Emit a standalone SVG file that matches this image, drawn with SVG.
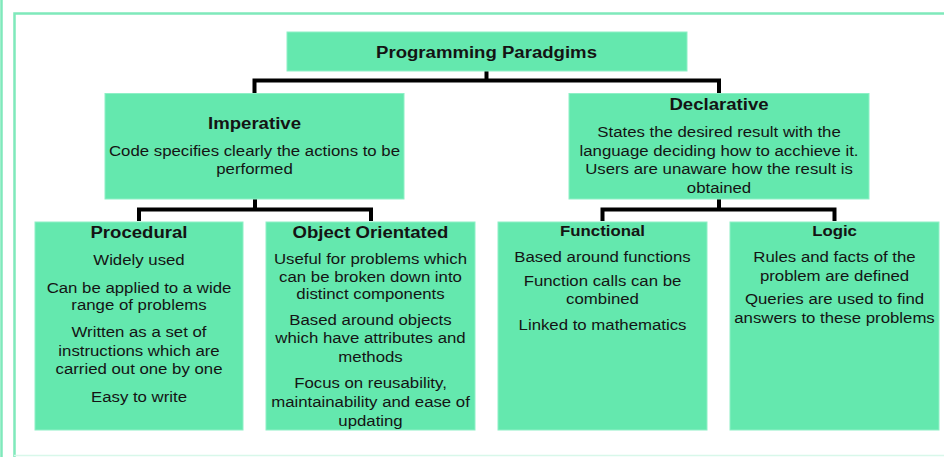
<svg xmlns="http://www.w3.org/2000/svg" width="944" height="457" viewBox="0 0 944 457">
  <style>
    .box { fill: #64e8ae; stroke: #8ef0c6; stroke-width: 1; }
    .frame { fill: none; stroke: #7fe9bb; stroke-width: 2.5; }
    .conn { fill: none; stroke: #000; stroke-width: 4; stroke-linejoin: miter; stroke-linecap: butt; }
    text { font-family: "Liberation Sans", Arial, sans-serif; fill: #141414; text-anchor: middle; }
    .h1 { font-size: 16.6px; font-weight: bold; }
    .h2 { font-size: 15px; font-weight: bold; }
    .b { font-size: 15px; }
  </style>

  <!-- page frame -->
  <line x1="1.5" y1="0" x2="1.5" y2="457" class="frame" stroke-width="2"/>
  <path class="frame" d="M14.5 457 V13.5 H944"/>
  <line x1="14" y1="455.5" x2="944" y2="455.5" stroke="#d8f8ea" stroke-width="1.5"/>

  <!-- connectors -->
  <g id="connectors">
    <path class="conn" d="M486.5 71 V80.5"/>
    <path class="conn" d="M254.5 93 V80.5 H719 V93"/>
    <path class="conn" d="M255 199 V209.5"/>
    <path class="conn" d="M139 221 V209.5 H371 V221"/>
    <path class="conn" d="M719 199 V209.5"/>
    <path class="conn" d="M602.5 221 V209.5 H834.5 V221"/>
  </g>

  <g id="root">
    <rect class="box" x="287" y="32" width="400" height="39"/>
    <g transform="translate(486.5 0) scale(1.12 1)">
      <text class="h1" x="0" y="58">Programming Paradgims</text>
    </g>
  </g>

  <g id="imperative">
    <rect class="box" x="105" y="93.5" width="299" height="105.5"/>
    <g transform="translate(254.5 0) scale(1.12 1)">
      <text class="h1" x="0" y="129">Imperative</text>
      <text class="b" x="0" y="156">Code specifies clearly the actions to be</text>
      <text class="b" x="0" y="174">performed</text>
    </g>
  </g>

  <g id="declarative">
    <rect class="box" x="569" y="93.5" width="300" height="105.5"/>
    <g transform="translate(719 0) scale(1.12 1)">
      <text class="h1" x="0" y="110">Declarative</text>
      <text class="b" x="0" y="137">States the desired result with the</text>
      <text class="b" x="0" y="156">language deciding how to acchieve it.</text>
      <text class="b" x="0" y="174">Users are unaware how the result is</text>
      <text class="b" x="0" y="193">obtained</text>
    </g>
  </g>

  <g id="procedural">
    <rect class="box" x="35" y="222" width="208" height="208"/>
    <g transform="translate(139 0) scale(1.12 1)">
      <text class="h1" x="0" y="238">Procedural</text>
      <text class="b" x="0" y="265">Widely used</text>
      <text class="b" x="0" y="293">Can be applied to a wide</text>
      <text class="b" x="0" y="310">range of problems</text>
      <text class="b" x="0" y="337">Written as a set of</text>
      <text class="b" x="0" y="356">instructions which are</text>
      <text class="b" x="0" y="374">carried out one by one</text>
      <text class="b" x="0" y="402">Easy to write</text>
    </g>
  </g>

  <g id="object-orientated">
    <rect class="box" x="266" y="222" width="209" height="208"/>
    <g transform="translate(370.5 0) scale(1.12 1)">
      <text class="h1" x="0" y="238">Object Orientated</text>
      <text class="b" x="0" y="264">Useful for problems which</text>
      <text class="b" x="0" y="282">can be broken down into</text>
      <text class="b" x="0" y="299">distinct components</text>
      <text class="b" x="0" y="325">Based around objects</text>
      <text class="b" x="0" y="343">which have attributes and</text>
      <text class="b" x="0" y="362">methods</text>
      <text class="b" x="0" y="388">Focus on reusability,</text>
      <text class="b" x="0" y="407">maintainability and ease of</text>
      <text class="b" x="0" y="426">updating</text>
    </g>
  </g>

  <g id="functional">
    <rect class="box" x="498" y="222" width="209" height="208"/>
    <g transform="translate(602.5 0) scale(1.12 1)">
      <text class="h2" x="0" y="236">Functional</text>
      <text class="b" x="0" y="262">Based around functions</text>
      <text class="b" x="0" y="286">Function calls can be</text>
      <text class="b" x="0" y="304">combined</text>
      <text class="b" x="0" y="330">Linked to mathematics</text>
    </g>
  </g>

  <g id="logic">
    <rect class="box" x="730" y="222" width="209" height="208"/>
    <g transform="translate(834.5 0) scale(1.12 1)">
      <text class="h2" x="0" y="236">Logic</text>
      <text class="b" x="0" y="262">Rules and facts of the</text>
      <text class="b" x="0" y="281">problem are defined</text>
      <text class="b" x="0" y="304">Queries are used to find</text>
      <text class="b" x="0" y="323">answers to these problems</text>
    </g>
  </g>
</svg>
